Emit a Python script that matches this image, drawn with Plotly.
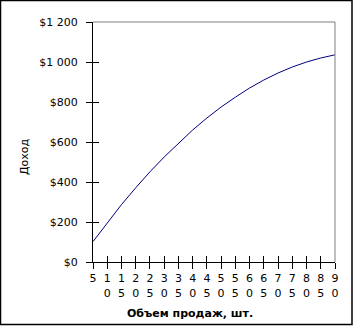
import plotly.graph_objects as go

# Data
volume = [5, 10, 15, 20, 25, 30, 35, 40, 45, 50, 55, 60, 65, 70, 75, 80, 85, 90]
revenue = [102, 197, 287, 371, 451, 525, 595, 660, 720, 775, 824, 870, 910, 945, 975, 1000, 1020, 1036]
x_tick_labels = ["<br>".join(str(v)) for v in volume]
y_tick_vals = [0, 200, 400, 600, 800, 1000, 1200]
y_tick_labels = ["$0", "$200", "$400", "$600", "$800", "$1 000", "$1 200"]
x_title = "Объем продаж, шт."
y_title = "Доход"

W, H = 354, 326
L, R, T, B = 93, 19, 22, 64
PW, PH = W - L - R, H - T - B

def px_x(p):
    return (p - L) / PW

def px_y(p):
    return (H - B - p) / PH

FONT = "DejaVu Sans"

fig = go.Figure()
fig.add_trace(go.Scatter(x=volume, y=revenue, mode="lines",
                         line=dict(color="#000080", width=1), showlegend=False))

common_tick = dict(tickfont=dict(family=FONT, size=11, color="black"))
fig.update_layout(
    width=W, height=H,
    margin=dict(l=L, r=R, t=T, b=B, pad=0),
    paper_bgcolor="white", plot_bgcolor="white",
    showlegend=False,
    xaxis=dict(range=[5, 90], tickvals=volume, ticktext=x_tick_labels,
               showgrid=False, zeroline=False, showline=True, linecolor="black", linewidth=1,
               ticks="outside", ticklen=6, tickcolor="black", tickwidth=1, **common_tick),
    yaxis=dict(range=[0, 1200], tickvals=y_tick_vals, ticktext=y_tick_labels,
               showgrid=False, zeroline=False, showline=True, linecolor="black", linewidth=1,
               ticks="outside", ticklen=6, tickcolor="black", tickwidth=1,
               ticklabelstandoff=6, **common_tick),
    xaxis2=dict(overlaying="x", anchor="y", side="bottom", range=[5, 90], tickvals=volume,
                showticklabels=False, showgrid=False, zeroline=False, showline=False,
                ticks="inside", ticklen=6, tickcolor="black", tickwidth=1),
    yaxis2=dict(overlaying="y", anchor="x", side="left", range=[0, 1200], tickvals=y_tick_vals,
                showticklabels=False, showgrid=False, zeroline=False, showline=False,
                ticks="inside", ticklen=6, tickcolor="black", tickwidth=1),
    annotations=[
        dict(text=x_title, xref="paper", yref="paper", x=px_x(190), y=px_y(313),
             xanchor="center", yanchor="middle", showarrow=False,
             font=dict(family=FONT, size=11, color="black", weight="bold")),
        dict(text=y_title, xref="paper", yref="paper", x=px_x(24.5), y=px_y(156.5),
             xanchor="center", yanchor="middle", showarrow=False, textangle=-90,
             font=dict(family=FONT, size=11, color="black")),
    ],
    shapes=[
        dict(type="line", xref="paper", yref="paper", x0=0, x1=1, y0=1, y1=1,
             line=dict(color="#808080", width=1)),
        dict(type="line", xref="paper", yref="paper", x0=1, x1=1, y0=0, y1=1,
             line=dict(color="#808080", width=1)),
        dict(type="rect", xref="paper", yref="paper",
             x0=px_x(0.5), x1=px_x(352), y0=px_y(324.5), y1=px_y(0.5),
             line=dict(color="black", width=1.5), fillcolor="rgba(0,0,0,0)"),
    ],
)
# dummy invisible trace so overlay axes render
fig.add_trace(go.Scatter(x=[volume[0]], y=[revenue[0]], xaxis="x2", yaxis="y2",
                         mode="markers", marker=dict(opacity=0), showlegend=False, hoverinfo="skip"))

fig.write_html("out.html")
